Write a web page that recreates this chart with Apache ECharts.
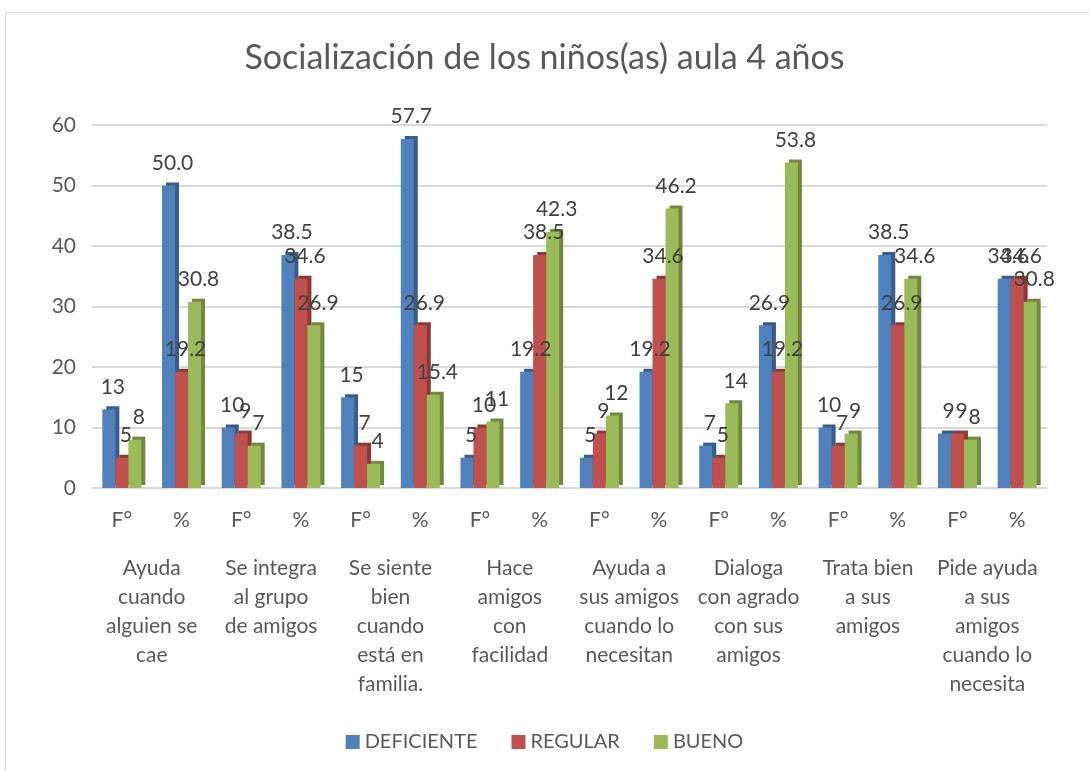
<!DOCTYPE html>
<html>
<head>
<meta charset="utf-8">
<script src="https://cdn.jsdelivr.net/npm/echarts@6/dist/echarts.min.js"></script>
<style>
  html, body { margin: 0; padding: 0; background: #fff; }
</style>
</head>
<body>
<div id="main" style="width:1089px;height:771px;"></div>
<script>
// sub categories (F° = frecuencia, % = porcentaje)
let subCats = ['F°', '%', 'F°', '%', 'F°', '%', 'F°', '%', 'F°', '%', 'F°', '%', 'F°', '%', 'F°', '%']
let groups = [
    'Ayuda\ncuando\nalguien se\ncae',
    'Se integra\nal grupo\nde amigos',
    'Se siente\nbien\ncuando\nestá en\nfamilia.',
    'Hace\namigos\ncon\nfacilidad',
    'Ayuda a\nsus amigos\ncuando lo\nnecesitan',
    'Dialoga\ncon agrado\ncon sus\namigos',
    'Trata bien\na sus\namigos',
    'Pide ayuda\na sus\namigos\ncuando lo\nnecesita',
]
let deficiente = [13, 50.0, 10, 38.5, 15, 57.7, 5, 19.2, 5, 19.2, 7, 26.9, 10, 38.5, 9, 34.6]
let regular = [5, 19.2, 9, 34.6, 7, 26.9, 10, 38.5, 9, 34.6, 5, 19.2, 7, 26.9, 9, 34.6]
let bueno = [8, 30.8, 7, 26.9, 4, 15.4, 11, 42.3, 12, 46.2, 14, 53.8, 9, 34.6, 8, 30.8]
let seriesNames = ['DEFICIENTE', 'REGULAR', 'BUENO']
let myColor = ['#4F81BD', '#C0504D', '#9BBB59']
let sideColor = ['#385D8A', '#8C3836', '#71893F']

let font = 'Lato, "Open Sans", sans-serif'

function makeSeries (i, data) {
    return {
        name: seriesNames[i],
        type: 'bar',
        xAxisIndex: 0,
        data: data,
        barWidth: 13,
        barGap: '0%',
        itemStyle: {
            color: myColor[i],
            shadowColor: sideColor[i],
            shadowBlur: 0,
            shadowOffsetX: 4,
            shadowOffsetY: -3,
        },
        label: {
            show: true,
            position: 'top',
            distance: 12,
            offset: [4, 0],
            color: '#404040',
            fontSize: 21,
            fontFamily: font,
            formatter: function (p) {
                return p.dataIndex % 2 === 0 ? String(p.value) : p.value.toFixed(1)
            },
        },
    }
}

let option = {
    backgroundColor: '#ffffff',
    animation: false,
    title: {
        text: 'Socialización de los niños(as) aula 4 años',
        left: 'center',
        top: 36,
        textStyle: {
            fontFamily: font,
            fontSize: 34,
            fontWeight: 'normal',
            color: '#595959',
        },
    },
    graphic: [{
        type: 'rect',
        shape: { x: 5.5, y: 12.5, width: 1100, height: 800 },
        style: { fill: 'none', stroke: '#d9d9d9', lineWidth: 1 },
        silent: true,
    }],
    grid: {
        left: 92,
        right: 42,
        top: 125,
        bottom: 283,
    },
    legend: {
        bottom: 14,
        left: 'center',
        itemWidth: 14,
        itemHeight: 14,
        itemGap: 34,
        icon: 'rect',
        textStyle: {
            fontFamily: font,
            fontSize: 20,
            color: '#595959',
        },
        data: seriesNames,
    },
    xAxis: [
        {
            type: 'category',
            data: subCats,
            axisLine: { show: false },
            axisTick: { show: false },
            axisLabel: {
                margin: 22,
                fontFamily: font,
                fontSize: 21,
                color: '#595959',
            },
        },
        {
            type: 'category',
            data: groups,
            position: 'bottom',
            offset: 62,
            axisLine: { show: false },
            axisTick: { show: false },
            axisLabel: {
                margin: 4,
                fontFamily: font,
                fontSize: 21,
                lineHeight: 29,
                color: '#595959',
                interval: 0,
            },
        },
    ],
    yAxis: {
        type: 'value',
        min: 0,
        max: 60,
        interval: 10,
        axisLine: { show: false },
        axisTick: { show: false },
        splitLine: { lineStyle: { color: '#d9d9d9', width: 2 } },
        axisLabel: {
            margin: 16,
            fontFamily: font,
            fontSize: 21,
            color: '#595959',
        },
    },
    series: [
        makeSeries(0, deficiente),
        makeSeries(1, regular),
        makeSeries(2, bueno),
    ],
}

let myChart = echarts.init(document.getElementById('main'))
myChart.setOption(option)
</script>
</body>
</html>
